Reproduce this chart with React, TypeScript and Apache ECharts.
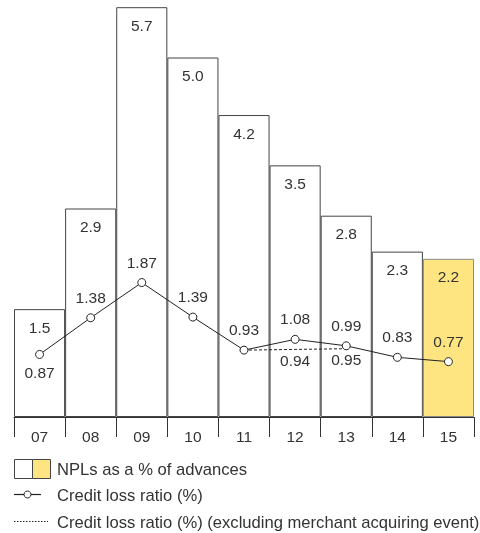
import React, { useEffect, useRef } from "react";
import * as echarts from "echarts";

const categories = ["07", "08", "09", "10", "11", "12", "13", "14", "15"];
const nplValues = [1.5, 2.9, 5.7, 5.0, 4.2, 3.5, 2.8, 2.3, 2.2];
const creditLoss = [0.87, 1.38, 1.87, 1.39, 0.93, 1.08, 0.99, 0.83, 0.77];
const creditLossExcl = [null, null, null, null, 0.93, 0.94, 0.95, null, null];
const legendLabels = [
  "NPLs as a % of advances",
  "Credit loss ratio (%)",
  "Credit loss ratio (%) (excluding merchant acquiring event)",
];

const FONT = "Liberation Sans";
const TXT = "#333";
const LBL = 15.5;
const LEG = 16.6;

export default function App() {
  const ref = useRef<HTMLDivElement>(null);
  useEffect(() => {
    if (!ref.current) return;
    const chart = echarts.init(ref.current, null, { renderer: "svg" });
    const last = categories.length - 1;
    chart.setOption({
      animation: false,
      textStyle: { fontFamily: FONT },
      grid: { left: 14, right: 6, top: 0, bottom: 116 },
      xAxis: {
        type: "category",
        data: categories,
        offset: 6,
        axisLine: { show: true, lineStyle: { color: "#333", width: 1 } },
        axisTick: { show: true, length: 20, lineStyle: { color: "#333" } },
        axisLabel: { margin: 5, fontSize: LBL, color: TXT, fontFamily: FONT },
      },
      yAxis: {
        type: "value",
        min: 0,
        max: 5.8,
        show: false,
        splitLine: { show: false },
      },
      series: [
        {
          type: "bar",
          barCategoryGap: 0,
          data: nplValues.map((v, i) => ({
            value: v,
            itemStyle:
              i === last
                ? { color: "#FEE581", borderColor: "#8a8a8a", borderWidth: 1 }
                : { color: "#ffffff", borderColor: "#444", borderWidth: 1 },
          })),
          label: {
            show: true,
            position: "insideTop",
            distance: 10,
            fontSize: LBL,
            color: TXT,
            fontFamily: FONT,
            formatter: (p: any) => p.value.toFixed(1),
          },
          z: 1,
        },
        {
          type: "line",
          data: creditLossExcl.map((v) =>
            v == null
              ? null
              : {
                  value: v,
                  label: { show: v !== 0.93 },
                }
          ),
          symbol: "circle",
          symbolSize: 0.1,
          showSymbol: true,
          lineStyle: { color: "#222", width: 1, type: [3, 2] },
          itemStyle: { color: "transparent" },
          label: {
            show: true,
            position: "bottom",
            distance: 3,
            fontSize: LBL,
            color: TXT,
            fontFamily: FONT,
            formatter: (p: any) => p.value.toFixed(2),
          },
          z: 2,
        },
        {
          type: "line",
          data: creditLoss.map((v, i) => ({
            value: v,
            label: i === 0 ? { position: "bottom", distance: 6 } : {},
          })),
          symbol: "circle",
          symbolSize: 8,
          lineStyle: { color: "#222", width: 1 },
          itemStyle: { color: "#fff", borderColor: "#222", borderWidth: 1 },
          label: {
            show: true,
            position: "top",
            distance: 8,
            fontSize: LBL,
            color: TXT,
            fontFamily: FONT,
            formatter: (p: any) => p.value.toFixed(2),
          },
          z: 3,
        },
      ],
      graphic: [
        { type: "rect", shape: { x: 14.5, y: 459.5, width: 18, height: 19 }, style: { fill: "#fff", stroke: "#444", lineWidth: 1 } },
        { type: "rect", shape: { x: 32.5, y: 459.5, width: 18, height: 19 }, style: { fill: "#FEE581", stroke: "#444", lineWidth: 1 } },
        { type: "text", x: 57, y: 469, style: { text: legendLabels[0], fontSize: LEG, fill: TXT, fontFamily: FONT, verticalAlign: "middle" } },
        { type: "line", shape: { x1: 14, y1: 494.5, x2: 41, y2: 494.5 }, style: { stroke: "#222", lineWidth: 1.2 } },
        { type: "circle", shape: { cx: 27.5, cy: 494.5, r: 3.5 }, style: { fill: "#fff", stroke: "#222", lineWidth: 1 } },
        { type: "text", x: 57, y: 495, style: { text: legendLabels[1], fontSize: LEG, fill: TXT, fontFamily: FONT, verticalAlign: "middle" } },
        { type: "line", shape: { x1: 14, y1: 521.5, x2: 48, y2: 521.5 }, style: { stroke: "#222", lineWidth: 1, lineDash: [1.5, 1.5] } },
        { type: "text", x: 57, y: 522, style: { text: legendLabels[2], fontSize: LEG, fill: TXT, fontFamily: FONT, verticalAlign: "middle" } },
      ],
    });
    return () => chart.dispose();
  }, []);
  return (
    <div
      ref={ref}
      style={{ position: "fixed", left: 0, top: 0, width: 480, height: 533 }}
    />
  );
}
